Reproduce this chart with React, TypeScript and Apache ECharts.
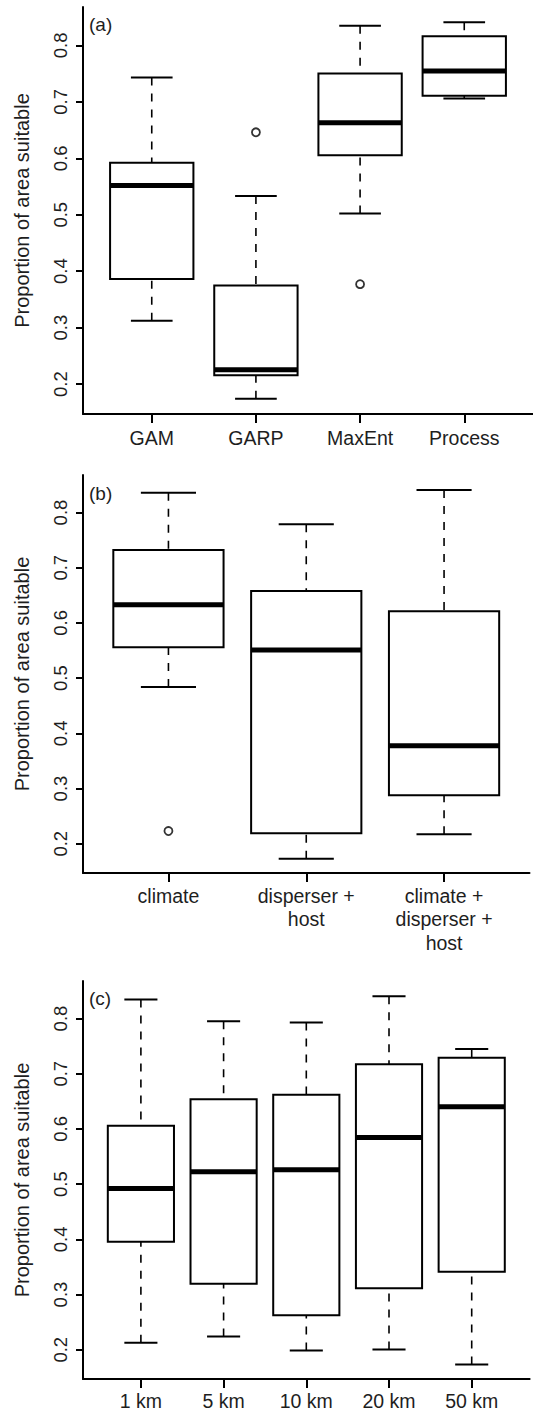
import React, { useEffect, useRef } from "react";
import * as echarts from "echarts";

// Panel (a): modelling approach
const catsA = ["GAM", "GARP", "MaxEnt", "Process"];
const lowA = [0.312, 0.174, 0.502, 0.706];
const q1A = [0.386, 0.2155, 0.6055, 0.711];
const medA = [0.552, 0.2255, 0.663, 0.7545];
const q3A = [0.592, 0.3745, 0.75, 0.816];
const highA = [0.743, 0.533, 0.835, 0.841];
const outA: [number, number][] = [[2, 0.646], [3, 0.377]];

// Panel (b): predictor set
const catsB = ["climate", "disperser +\nhost", "climate +\ndisperser +\nhost"];
const lowB = [0.484, 0.173, 0.217];
const q1B = [0.556, 0.219, 0.288];
const medB = [0.633, 0.551, 0.3775];
const q3B = [0.732, 0.658, 0.621];
const highB = [0.836, 0.779, 0.841];
const outB: [number, number][] = [[1, 0.223]];

// Panel (c): resolution
const catsC = ["1 km", "5 km", "10 km", "20 km", "50 km"];
const lowC = [0.2125, 0.224, 0.1986, 0.2004, 0.1732];
const q1C = [0.3955, 0.3194, 0.2627, 0.3116, 0.3411];
const medC = [0.492, 0.5223, 0.5259, 0.5844, 0.64];
const q3C = [0.6056, 0.654, 0.6618, 0.7174, 0.7288];
const highC = [0.8344, 0.7953, 0.7928, 0.8406, 0.7446];
const outC: [number, number][] = [];

const yTicks = [0.2, 0.3, 0.4, 0.5, 0.6, 0.7, 0.8];
const Y_MIN = 0.147;
const Y_MAX = 0.868;

const TEXT = "#1e1e1e";
const FONT = "Liberation Sans, Arial, Helvetica, sans-serif";

function boxData(low: number[], q1: number[], med: number[], q3: number[], high: number[]) {
  return low.map((_, i) => [i + 1, low[i], q1[i], med[i], q3[i], high[i]]);
}

function renderBox(params: any, api: any) {
  const x = api.value(0);
  const pLow = api.coord([x, api.value(1)]);
  const pQ1 = api.coord([x, api.value(2)]);
  const pMed = api.coord([x, api.value(3)]);
  const pQ3 = api.coord([x, api.value(4)]);
  const pHigh = api.coord([x, api.value(5)]);
  const w = api.size([0.8, 0])[0];
  const sw = api.size([0.4, 0])[0];
  const cx = pLow[0];
  const dash = { stroke: "#000", lineWidth: 1.6, lineDash: [8, 8], fill: null };
  const solid = { stroke: "#000", lineWidth: 2, fill: null };
  return {
    type: "group",
    children: [
      { type: "line", shape: { x1: cx, y1: pHigh[1], x2: cx, y2: pQ3[1] }, style: dash },
      { type: "line", shape: { x1: cx, y1: pLow[1], x2: cx, y2: pQ1[1] }, style: dash },
      { type: "line", shape: { x1: cx - sw / 2, y1: pHigh[1], x2: cx + sw / 2, y2: pHigh[1] }, style: solid },
      { type: "line", shape: { x1: cx - sw / 2, y1: pLow[1], x2: cx + sw / 2, y2: pLow[1] }, style: solid },
      {
        type: "rect",
        shape: { x: cx - w / 2, y: pQ3[1], width: w, height: pQ1[1] - pQ3[1] },
        style: { fill: "#fff", stroke: "#000", lineWidth: 2 },
      },
      {
        type: "line",
        shape: { x1: cx - w / 2, y1: pMed[1], x2: cx + w / 2, y2: pMed[1] },
        style: { stroke: "#000", lineWidth: 5, fill: null },
      },
    ],
  };
}

function yAxisFor(gridIndex: number) {
  return {
    type: "value",
    gridIndex,
    min: Y_MIN,
    max: Y_MAX,
    name: "Proportion of area suitable",
    nameLocation: "middle",
    nameRotate: 90,
    nameGap: 51,
    nameTextStyle: { fontSize: 20, color: TEXT, fontFamily: FONT },
    axisLine: { show: true, lineStyle: { color: "#000", width: 2 } },
    axisTick: { show: true, length: 7, lineStyle: { color: "#000", width: 2 }, customValues: yTicks },
    axisLabel: {
      rotate: 90,
      margin: 13,
      fontSize: 18.5,
      color: TEXT,
      fontFamily: FONT,
      customValues: yTicks,
      formatter: (v: number) => v.toFixed(1),
    },
    splitLine: { show: false },
  };
}

function xAxisFor(gridIndex: number, cats: string[], min: number, max: number, margin: number) {
  const vals = cats.map((_, i) => i + 1);
  return {
    type: "value",
    gridIndex,
    min,
    max,
    axisLine: { show: true, lineStyle: { color: "#000", width: 2 } },
    axisTick: { show: true, length: 9, lineStyle: { color: "#000", width: 2 }, customValues: vals },
    axisLabel: {
      margin,
      fontSize: 19.5,
      lineHeight: 23.5,
      color: TEXT,
      fontFamily: FONT,
      customValues: vals,
      formatter: (v: number) => cats[Math.round(v) - 1] ?? "",
    },
    splitLine: { show: false },
  };
}

function panelSeries(idx: number, data: number[][], outs: [number, number][]) {
  return [
    {
      type: "custom",
      xAxisIndex: idx,
      yAxisIndex: idx,
      renderItem: renderBox,
      encode: { x: 0, y: [1, 2, 3, 4, 5] },
      data,
      z: 2,
    },
    {
      type: "scatter",
      xAxisIndex: idx,
      yAxisIndex: idx,
      symbol: "circle",
      symbolSize: 8,
      itemStyle: { color: "#fff", borderColor: "#000", borderWidth: 1.8 },
      data: outs,
      z: 3,
    },
  ];
}

export default function App() {
  const ref = useRef<HTMLDivElement>(null);
  useEffect(() => {
    if (!ref.current) return;
    const chart = echarts.init(ref.current, undefined, { renderer: "svg" });
    const titleStyle = { fontSize: 19, fontWeight: "normal", color: TEXT, fontFamily: FONT };
    chart.setOption({
      animation: false,
      backgroundColor: "#fff",
      title: [
        { text: "(a)", left: 89, top: 15, padding: 0, textStyle: titleStyle },
        { text: "(b)", left: 89, top: 484, padding: 0, textStyle: titleStyle },
        { text: "(c)", left: 89, top: 989, padding: 0, textStyle: titleStyle },
      ],
      grid: [
        { left: 83, top: 7, width: 455, height: 407 },
        { left: 83, top: 475, width: 446.5, height: 398 },
        { left: 83, top: 981, width: 446.6, height: 398 },
      ],
      xAxis: [
        xAxisFor(0, catsA, 0.34, 4.66, 12),
        xAxisFor(1, catsB, 0.38, 3.62, 11),
        xAxisFor(2, catsC, 0.3, 5.7, 10),
      ],
      yAxis: [yAxisFor(0), yAxisFor(1), yAxisFor(2)],
      series: [
        ...panelSeries(0, boxData(lowA, q1A, medA, q3A, highA), outA),
        ...panelSeries(1, boxData(lowB, q1B, medB, q3B, highB), outB),
        ...panelSeries(2, boxData(lowC, q1C, medC, q3C, highC), outC),
      ],
    });
    return () => chart.dispose();
  }, []);
  return (
    <div
      ref={ref}
      style={{ position: "absolute", left: 0, top: 0, width: 533, height: 1414, background: "#fff" }}
    />
  );
}
